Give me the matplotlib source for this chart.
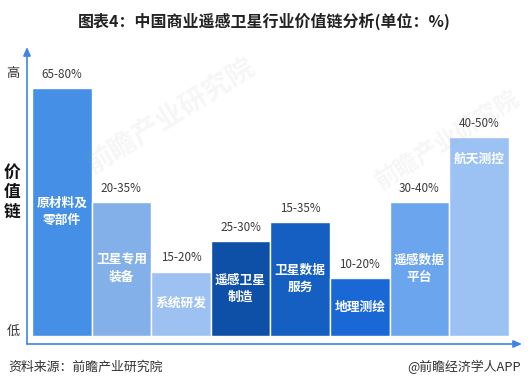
import matplotlib
matplotlib.use("Agg")
import matplotlib.pyplot as plt

plt.rcParams['font.family'] = ['Noto Sans CJK SC', 'DejaVu Sans']

# value chain segments, left to right
segments = ["原材料及\n零部件", "卫星专用\n装备", "系统研发", "遥感卫星\n制造",
            "卫星数据\n服务", "地理测绘", "遥感数据\n平台", "航天测控"]
ranges = ["65-80%", "20-35%", "15-20%", "25-30%",
          "15-35%", "10-20%", "30-40%", "40-50%"]
# relative bar height on the value chain (tallest = 100)
heights = [100, 54, 26, 38.3, 46, 23.4, 54, 80.2]
colors = ["#4590e6", "#84b0ea", "#9dc2f2", "#0e50a8",
          "#155fc2", "#1968d6", "#6aa5ee", "#9cc2f4"]

W, H = 528, 388
fig = plt.figure(figsize=(W / 100, H / 100), dpi=100)

# axes box in pixels: x 27..522, y 47..344 (from top)
ax = fig.add_axes([27 / W, (H - 344) / H, 495 / W, 297 / H])
unit_x = 59.6
x_left = -0.5 - 5 / unit_x
ax.set_xlim(x_left, x_left + 495 / unit_x)
unit_y = 2.48
y_bot = -8 / unit_y
ax.set_ylim(y_bot, y_bot + 297 / unit_y)
ax.axis("off")

xs = list(range(len(segments)))
ax.bar(xs, heights, width=1.0, color=colors, edgecolor="white", linewidth=1.0)

for i, (seg, rng, h) in enumerate(zip(segments, ranges, heights)):
    ax.annotate(rng, (i, h), xytext=(0, 10), textcoords="offset points",
                ha="center", va="center", fontsize=8.4, color="#3a3a3a")
    if i == len(segments) - 1:
        # last label sits near the top of its bar
        ax.annotate(seg, (i, h), xytext=(0, -16), textcoords="offset points",
                    ha="center", va="center", fontsize=9.2, fontweight="bold",
                    color="white", linespacing=1.4)
    else:
        ax.text(i, h / 2, seg, ha="center", va="center", fontsize=9.2,
                fontweight="bold", color="white", linespacing=1.4)

# axis arrows
arrow = dict(arrowstyle="-|>,head_length=0.5,head_width=0.22",
             color="#3f86e0", lw=1.2, shrinkA=0, shrinkB=0)
ax.annotate("", xy=(1, 0), xytext=(0, 0), xycoords="axes fraction",
            arrowprops=arrow, annotation_clip=False)
ax.annotate("", xy=(0, 1), xytext=(0, 0), xycoords="axes fraction",
            arrowprops=arrow, annotation_clip=False)

# watermarks
fig.text(170 / W, 1 - 115 / H, "前瞻产业研究院", fontsize=20, fontweight="bold",
         color="#9aa0a8", alpha=0.09, rotation=32, ha="center", va="center")
fig.text(448 / W, 1 - 140 / H, "前瞻产业研究院", fontsize=17, fontweight="bold",
         color="#9aa0a8", alpha=0.09, rotation=32, ha="center", va="center")

fig.text(0.5, 1 - 21 / H, "图表4：中国商业遥感卫星行业价值链分析(单位：%)",
         ha="center", va="center", fontsize=11.5, fontweight="bold",
         color="#222222")
fig.text(13 / W, 1 - 73 / H, "高", ha="center", va="center", fontsize=9.5,
         color="#333333")
fig.text(13 / W, 1 - 331 / H, "低", ha="center", va="center", fontsize=9.5,
         color="#333333")
for k, ch in enumerate("价值链"):
    fig.text(12 / W, 1 - (173 + 19.5 * k) / H, ch, ha="center", va="center",
             fontsize=12, fontweight="bold", color="#111111")

fig.text(8 / W, 1 - 367 / H, "资料来源：前瞻产业研究院", ha="left", va="center",
         fontsize=9.3, color="#333333")
fig.text(521 / W, 1 - 367 / H, "@前瞻经济学人APP", ha="right", va="center",
         fontsize=9.3, color="#333333")

fig.savefig("out.png", dpi=100)
